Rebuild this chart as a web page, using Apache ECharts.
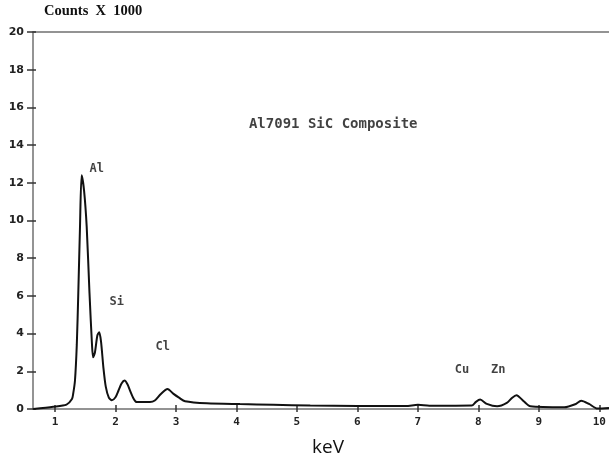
<!DOCTYPE html>
<html>
<head>
<meta charset="utf-8">
<script src="https://cdn.jsdelivr.net/npm/echarts@6/dist/echarts.min.js"></script>
<style>
  html, body { margin: 0; padding: 0; background: #fff; }
  #chart { width: 609px; height: 466px; }
</style>
</head>
<body>
<div id="chart"></div>
<script>
// spectrum (keV, counts x 1000)
var energy = [0.64, 0.97, 1.19, 1.28, 1.30, 1.33, 1.36, 1.385, 1.413, 1.44, 1.48, 1.524, 1.57, 1.61, 1.63,
    1.66, 1.70, 1.73, 1.76, 1.80, 1.84, 1.89, 1.94, 2.00, 2.05, 2.10, 2.15, 2.20, 2.24, 2.30, 2.35,
    2.57, 2.65, 2.75, 2.86, 2.96, 3.05, 3.15, 3.51, 4.06, 4.61, 5.22, 6.0, 6.8, 7.0,
    7.19, 7.89, 7.96, 8.03, 8.14, 8.31, 8.47, 8.56, 8.63, 8.75, 8.86, 9.42, 9.60, 9.70, 9.83, 9.97, 10.16];
var counts = [0.0, 0.12, 0.23, 0.53, 0.8, 1.51, 3.4, 6.16, 9.66, 12.4, 11.6, 9.66, 6.16, 3.5, 2.74,
    3.0, 3.9, 4.07, 3.6, 2.2, 1.17, 0.6, 0.46, 0.62, 0.98, 1.35, 1.51, 1.3, 0.98, 0.55, 0.37,
    0.37, 0.45, 0.8, 1.06, 0.8, 0.6, 0.41, 0.30, 0.26, 0.23, 0.18, 0.16, 0.16, 0.22,
    0.17, 0.18, 0.38, 0.5, 0.27, 0.14, 0.32, 0.6, 0.73, 0.41, 0.14, 0.09, 0.25, 0.44, 0.27, 0.02, 0.05];

// peak labels
var peakNames = ['Al', 'Si', 'Cl', 'Cu', 'Zn'];
var peakX = [1.69, 2.02, 2.78, 7.73, 8.33];
var peakY = [12.75, 5.7, 3.3, 2.1, 2.1];

var sampleName = 'Al7091 SiC Composite';
var sampleAt = [5.6, 15.1];

var xTicks = [1, 2, 3, 4, 5, 6, 7, 8, 9, 10];

var monoFont = '"DejaVu Sans Mono", monospace';

var lineData = [];
energy.forEach(function (e, i) {
    lineData.push([e, counts[i]]);
});
var labelData = [];
peakNames.forEach(function (n, i) {
    labelData.push({ name: n, value: [peakX[i], peakY[i]] });
});

var chart = echarts.init(document.getElementById('chart'));

var axisColor = '#707070';

var option = {
    animation: false,
    backgroundColor: '#fff',
    grid: { left: 33, right: 0, top: 32, bottom: 57 },
    graphic: [
        {
            type: 'text', left: 44, top: 4,
            style: { text: 'Counts  X  1000', font: 'bold 14.5px "Liberation Serif", serif', fill: '#111' }
        },
        {
            type: 'text', left: 312, top: 438,
            style: { text: 'keV', font: '19px "Open Sans", sans-serif', fill: '#111' }
        }
    ],
    xAxis: [
        {
            type: 'value', min: 0.636, max: 10.16,
            axisLine: { show: true, lineStyle: { color: axisColor, width: 1.5 } },
            axisTick: { show: true, customValues: xTicks, length: 3, lineStyle: { color: '#333', width: 1.5 } },
            axisLabel: { customValues: xTicks, margin: 8, color: '#222', fontFamily: monoFont, fontWeight: 'bold', fontSize: 11 },
            splitLine: { show: false }
        },
        {
            type: 'value', min: 0.636, max: 10.16, position: 'bottom',
            axisLine: { show: false },
            axisTick: { show: true, inside: true, customValues: xTicks, length: 4, lineStyle: { color: '#333', width: 1.5 } },
            axisLabel: { show: false },
            splitLine: { show: false }
        },
        {
            type: 'value', min: 0.636, max: 10.16, position: 'top',
            axisLine: { show: true, lineStyle: { color: axisColor, width: 1.5 } },
            axisTick: { show: false },
            axisLabel: { show: false },
            splitLine: { show: false }
        }
    ],
    yAxis: [
        {
            type: 'value', min: 0, max: 20, interval: 2,
            axisLine: { show: true, lineStyle: { color: axisColor, width: 1.5 } },
            axisTick: { show: true, length: 6, lineStyle: { color: '#333', width: 1.5 } },
            axisLabel: { margin: 9, color: '#222', fontFamily: '"DejaVu Sans", sans-serif', fontWeight: 'bold', fontSize: 11 },
            splitLine: { show: false }
        },
        {
            type: 'value', min: 0, max: 20, interval: 2, position: 'left',
            axisLine: { show: false },
            axisTick: { show: true, inside: true, length: 3, lineStyle: { color: '#333', width: 1.5 } },
            axisLabel: { show: false },
            splitLine: { show: false }
        }
    ],
    series: [
        {
            type: 'line',
            data: lineData,
            smooth: 0.25,
            symbol: 'none',
            lineStyle: { color: '#111', width: 2 }
        },
        {
            type: 'scatter',
            data: labelData,
            symbolSize: 0,
            silent: true,
            label: {
                show: true, position: 'inside', formatter: '{b}',
                color: '#111', fontFamily: monoFont, fontWeight: 'bold', fontSize: 12
            }
        },
        {
            type: 'scatter',
            data: [{ name: sampleName, value: sampleAt }],
            symbolSize: 0,
            silent: true,
            label: {
                show: true, position: 'inside', formatter: '{b}',
                color: '#111', fontFamily: monoFont, fontWeight: 'bold', fontSize: 14
            }
        }
    ]
};
chart.setOption(option);
</script>
</body>
</html>
